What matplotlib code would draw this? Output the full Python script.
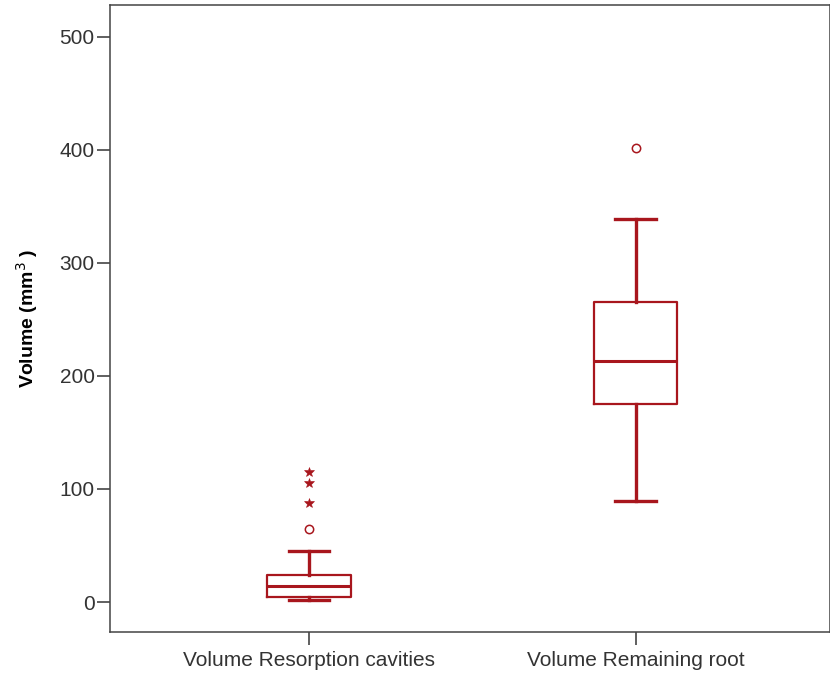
import matplotlib
matplotlib.use("Agg")
import matplotlib.pyplot as plt

plt.rcParams['font.family'] = ['Liberation Sans', 'DejaVu Sans']

# data
labels = ['Volume Resorption cavities', 'Volume Remaining root']
whislo = [1.5, 89.4]
q1 = [4.7, 175.2]
med = [14.2, 213.5]
q3 = [23.9, 264.9]
whishi = [45.4, 339.0]
outliers = [[64.6], [401.5]]       # circles
extremes = [[87.3, 105.0, 114.8], []]  # stars

red = '#a8161d'
axc = '#444444'

stats = []
for i in range(len(labels)):
    stats.append(dict(label=labels[i], whislo=whislo[i], q1=q1[i], med=med[i],
                      q3=q3[i], whishi=whishi[i], fliers=[]))

fig = plt.figure(figsize=(8.3, 6.75), dpi=100)
ax = fig.add_axes([110 / 830, 43 / 675, 720 / 830, 627 / 675])

pos = [1, 2]
ax.bxp(stats, positions=pos, widths=0.255, showfliers=False,
       boxprops=dict(color=red, linewidth=1.6),
       medianprops=dict(color=red, linewidth=2.2),
       whiskerprops=dict(color=red, linewidth=2.4),
       capprops=dict(color=red, linewidth=2.4),
       capwidths=0.125)

for p, vals in zip(pos, outliers):
    ax.plot([p] * len(vals), vals, linestyle='none', marker='o', markersize=6,
            markerfacecolor='none', markeredgecolor=red, markeredgewidth=1.1)
for p, vals in zip(pos, extremes):
    if vals:
        ax.plot([p] * len(vals), vals, linestyle='none', marker='*', markersize=7.5,
                markerfacecolor=red, markeredgecolor=red, markeredgewidth=0.4)

ax.set_xlim(0.391, 2.595)
ax.set_ylim(-26.5, 528)
ax.set_yticks([0, 100, 200, 300, 400, 500])
ax.set_xticks(pos)
ax.set_xticklabels(labels)
ax.tick_params(axis='both', direction='out', length=9.5, width=1.2, color=axc,
               labelcolor='#333333', labelsize=15)
ax.tick_params(axis='y', pad=1.5)
ax.tick_params(axis='x', pad=4.5)
for s in ax.spines.values():
    s.set_color(axc)
    s.set_linewidth(1.1)

ax.set_ylabel('Volume (mm$^3$ )', fontsize=14, fontweight='bold')
ax.yaxis.set_label_coords(-0.097, 0.5)

fig.savefig('out.png', dpi=100)
